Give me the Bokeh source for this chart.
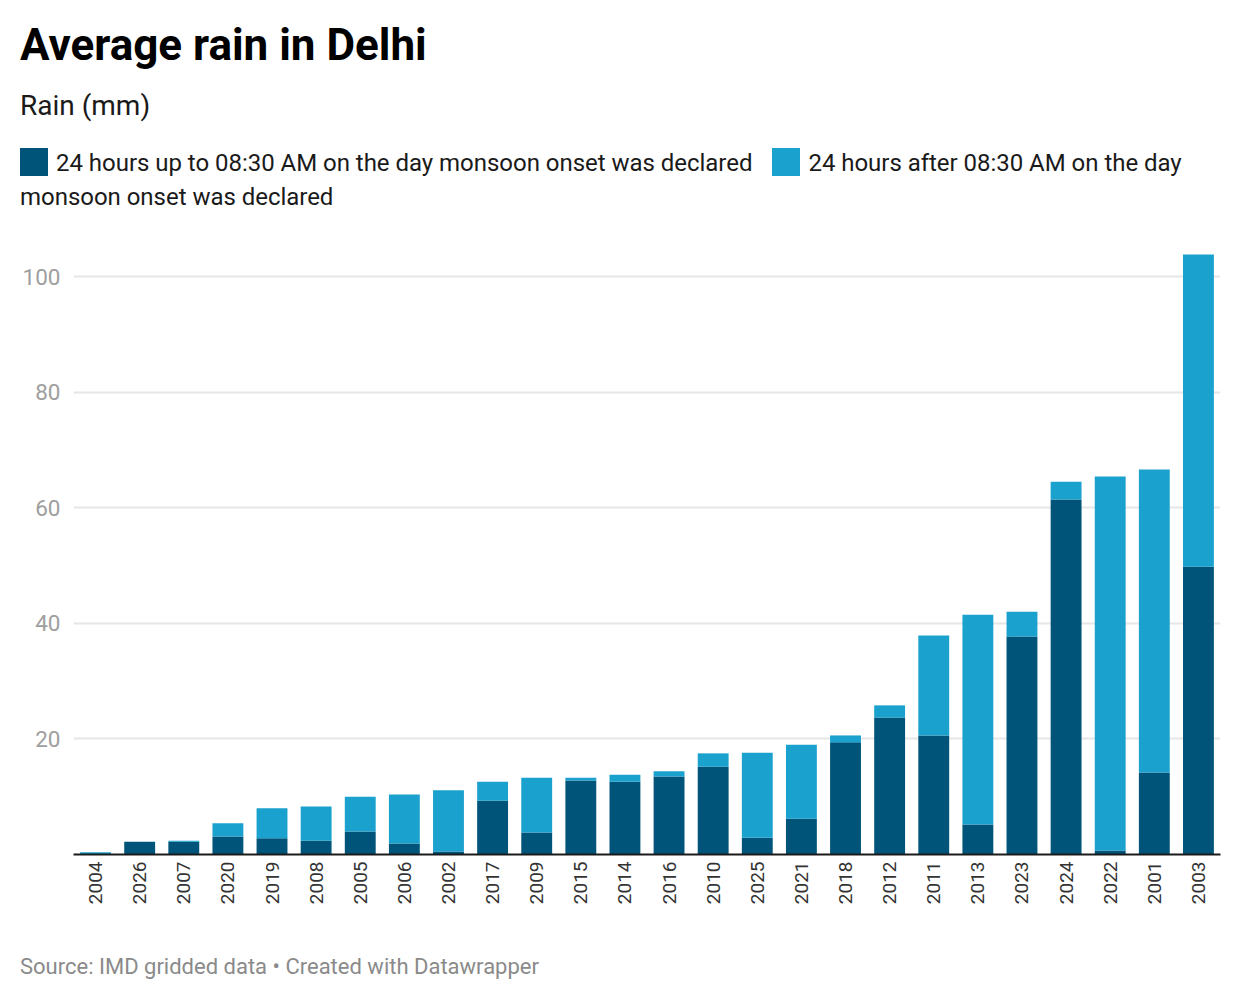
from bokeh.plotting import figure
from bokeh.models import ColumnDataSource, FactorRange, Range1d, FixedTicker, Div
from bokeh.layouts import column
from bokeh.embed import file_html
from bokeh.resources import INLINE
import math

# ---- data ----
years = ["2004", "2026", "2007", "2020", "2019", "2008", "2005", "2006", "2002", "2017",
         "2009", "2015", "2014", "2016", "2010", "2025", "2021", "2018", "2012", "2011",
         "2013", "2023", "2024", "2022", "2001", "2003"]
rain_before = [0.0, 2.2, 2.2, 3.1, 2.8, 2.4, 4.0, 1.9, 0.5, 9.3,
               3.8, 12.8, 12.6, 13.5, 15.2, 2.9, 6.2, 19.4, 23.7, 20.6,
               5.2, 37.7, 61.4, 0.7, 14.2, 49.8]
rain_after = [0.4, 0.0, 0.2, 2.3, 5.2, 5.9, 6.0, 8.5, 10.6, 3.3,
              9.5, 0.5, 1.2, 0.9, 2.3, 14.7, 12.8, 1.2, 2.1, 17.3,
              36.3, 4.3, 3.1, 64.7, 52.4, 54.0]
y_ticks = [20, 40, 60, 80, 100]
legend_line1 = ["24 hours up to 08:30 AM on the day monsoon onset was declared",
                "24 hours after 08:30 AM on the day"]
legend_line2 = "monsoon onset was declared"
colors = ["#00547a", "#1aa1cd"]

FONT = "Roboto"

source = ColumnDataSource(dict(year=years, before=rain_before, after=rain_after))

# ---- header (title, subtitle, legend) ----
def swatch(c):
    return (f'<span style="display:inline-block;width:28px;height:28px;background:{c};'
            f'vertical-align:-5px;margin-right:8px;"></span>')

legend_row1 = (swatch(colors[0]) + f'<span>{legend_line1[0]}</span>'
               + '<span style="display:inline-block;width:20px;"></span>'
               + swatch(colors[1]) + f'<span>{legend_line1[1]}</span>')
header_html = f"""
<div style="position:relative;width:1240px;height:230px;font-family:{FONT};">
  <div style="position:absolute;left:20px;top:23px;font-size:44px;line-height:44px;font-weight:700;color:#000;white-space:nowrap;">Average rain in Delhi</div>
  <div style="position:absolute;left:20px;top:92px;font-size:28px;line-height:28px;color:#1a1a1a;white-space:nowrap;">Rain (mm)</div>
  <div style="position:absolute;left:20px;top:146px;font-size:24px;line-height:34px;color:#1a1a1a;white-space:nowrap;letter-spacing:-0.03px;">{legend_row1}</div>
  <div style="position:absolute;left:20px;top:180px;font-size:24px;line-height:34px;color:#1a1a1a;white-space:nowrap;letter-spacing:-0.03px;">{legend_line2}</div>
</div>
"""
header = Div(text=header_html, width=1240, height=230, margin=(0, 0, 0, 0))

# ---- chart ----
p = figure(x_range=FactorRange(factors=years), y_range=Range1d(0, 104.5),
           width=1240, height=710, output_backend="svg", toolbar_location=None,
           min_border_left=73, min_border_right=20, min_border_top=20, min_border_bottom=86)
p.vbar_stack(["before", "after"], x="year", width=0.7, fill_color=colors, line_color=None,
             source=source)

p.outline_line_color = None
p.background_fill_color = "white"
p.border_fill_color = "white"
p.xgrid.grid_line_color = None
p.ygrid.grid_line_color = "#e6e6e6"
p.ygrid.grid_line_width = 2

p.yaxis.ticker = FixedTicker(ticks=y_ticks)
p.yaxis.axis_line_color = None
p.yaxis.major_tick_line_color = None
p.yaxis.minor_tick_line_color = None
p.yaxis.major_tick_out = 0
p.yaxis.major_tick_in = 0
p.yaxis.major_label_standoff = 13
p.yaxis.major_label_text_font = FONT
p.yaxis.major_label_text_font_size = "22.5px"
p.yaxis.major_label_text_color = "#9e9e9e"

p.xaxis.axis_line_color = "#1a1a1a"
p.xaxis.axis_line_width = 2
p.xaxis.major_tick_line_color = None
p.xaxis.minor_tick_line_color = None
p.xaxis.major_tick_out = 0
p.xaxis.major_tick_in = 0
p.xaxis.major_label_standoff = 7
p.xaxis.major_label_orientation = math.pi / 2
p.xaxis.major_label_text_font = FONT
p.xaxis.major_label_text_font_size = "19px"
p.xaxis.major_label_text_color = "#333333"

# ---- footer ----
footer_html = f"""
<div style="position:relative;width:1240px;height:60px;font-family:{FONT};">
  <div style="position:absolute;left:20px;top:16px;font-size:22px;line-height:22px;color:#8a8a8a;white-space:nowrap;">Source: IMD gridded data &bull; Created with Datawrapper</div>
</div>
"""
footer = Div(text=footer_html, width=1240, height=60, margin=(0, 0, 0, 0))

layout = column(header, p, footer, spacing=0)
open("out.html", "w").write(file_html(layout, INLINE))
